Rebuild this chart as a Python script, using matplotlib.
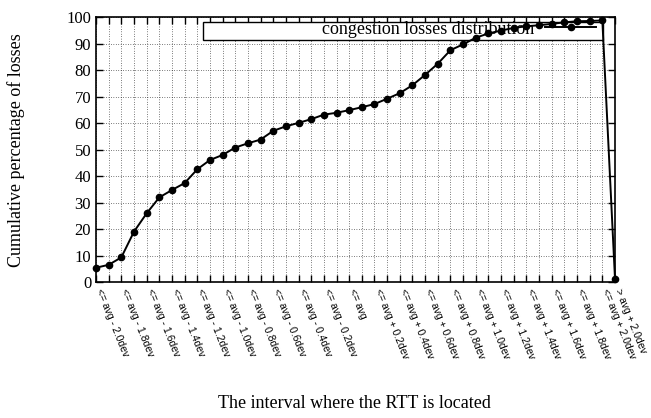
import numpy as np
import matplotlib
matplotlib.use("Agg")
import matplotlib.pyplot as plt
from matplotlib.patches import Rectangle

# cumulative share of congestion losses per RTT interval
losses = [5.5, 6.6, 9.4, 19.1, 26.0, 32.0, 34.8, 37.4, 42.6, 46.1,
          48.0, 50.8, 52.4, 53.8, 57.1, 58.8, 60.1, 61.5, 63.2, 63.9,
          64.9, 66.0, 67.2, 69.2, 71.3, 74.3, 78.2, 82.4, 87.5, 89.7,
          92.2, 93.8, 94.9, 95.9, 96.5, 96.9, 97.4, 98.0, 98.4, 98.5,
          98.7, 1.3]

interval_labels = ["<= avg - 2.0dev", "<= avg - 1.8dev", "<= avg - 1.6dev",
                   "<= avg - 1.4dev", "<= avg - 1.2dev", "<= avg - 1.0dev",
                   "<= avg - 0.8dev", "<= avg - 0.6dev", "<= avg - 0.4dev",
                   "<= avg - 0.2dev", "<= avg",
                   "<= avg + 0.2dev", "<= avg + 0.4dev", "<= avg + 0.6dev",
                   "<= avg + 0.8dev", "<= avg + 1.0dev", "<= avg + 1.2dev",
                   "<= avg + 1.4dev", "<= avg + 1.6dev", "<= avg + 1.8dev",
                   "<= avg + 2.0dev", "> avg + 2.0dev"]
label_pos = list(range(0, 41, 2)) + [41]

serif = "Liberation Serif"
sans = "Liberation Sans"

fig = plt.figure(figsize=(6.51, 4.18), dpi=100)
ax = fig.add_axes([0.1475, 0.3246, 0.7972, 0.6347])

x = np.arange(len(losses))
line, = ax.plot(x, losses, color="black", lw=1.4, marker="o", markersize=4.5,
                zorder=5, label="congestion losses distribution", clip_on=False)

ax.set_xlim(0, len(losses) - 1)
ax.set_ylim(0, 100)
ax.set_xticks(x)
ax.set_xticklabels([])
ax.set_yticks(np.arange(0, 101, 10))
ax.tick_params(axis="both", direction="in", length=5, width=1,
               top=True, right=True)
for lab in ax.get_yticklabels():
    lab.set_fontfamily(serif)
    lab.set_fontsize(12)
ax.grid(True, color="black", linestyle=(0, (1, 2.5)), lw=0.5)
for s in ax.spines.values():
    s.set_linewidth(1.2)

# rotated interval labels under every other tick
for pos, txt in zip(label_pos, interval_labels):
    ax.annotate(txt, xy=(pos, 0), xycoords=("data", "axes fraction"),
                xytext=(2, -5), textcoords="offset points",
                rotation=-68, rotation_mode="anchor", ha="left", va="center",
                fontsize=7.5, fontfamily=sans)

ax.set_ylabel("Cumulative percentage of losses", fontfamily=serif, fontsize=13)
ax.yaxis.set_label_coords(-0.137, 0.5)
fig.text(0.545, 0.035, "The interval where the RTT is located", ha="center",
         va="center", fontfamily=serif, fontsize=13)

# gnuplot-like key box
ax.add_patch(Rectangle((0.206, 0.913), 0.771, 0.068, transform=ax.transAxes,
                       facecolor="white", edgecolor="black", lw=1, zorder=3))
leg = ax.legend(handles=[line], loc="upper right", bbox_to_anchor=(0.97, 1.0),
                frameon=False, markerfirst=False, handlelength=2.8,
                prop={"family": serif, "size": 13}, borderaxespad=0.0,
                borderpad=0.2, handletextpad=0.6)
leg.set_zorder(4)

fig.savefig("out.png", dpi=100)
